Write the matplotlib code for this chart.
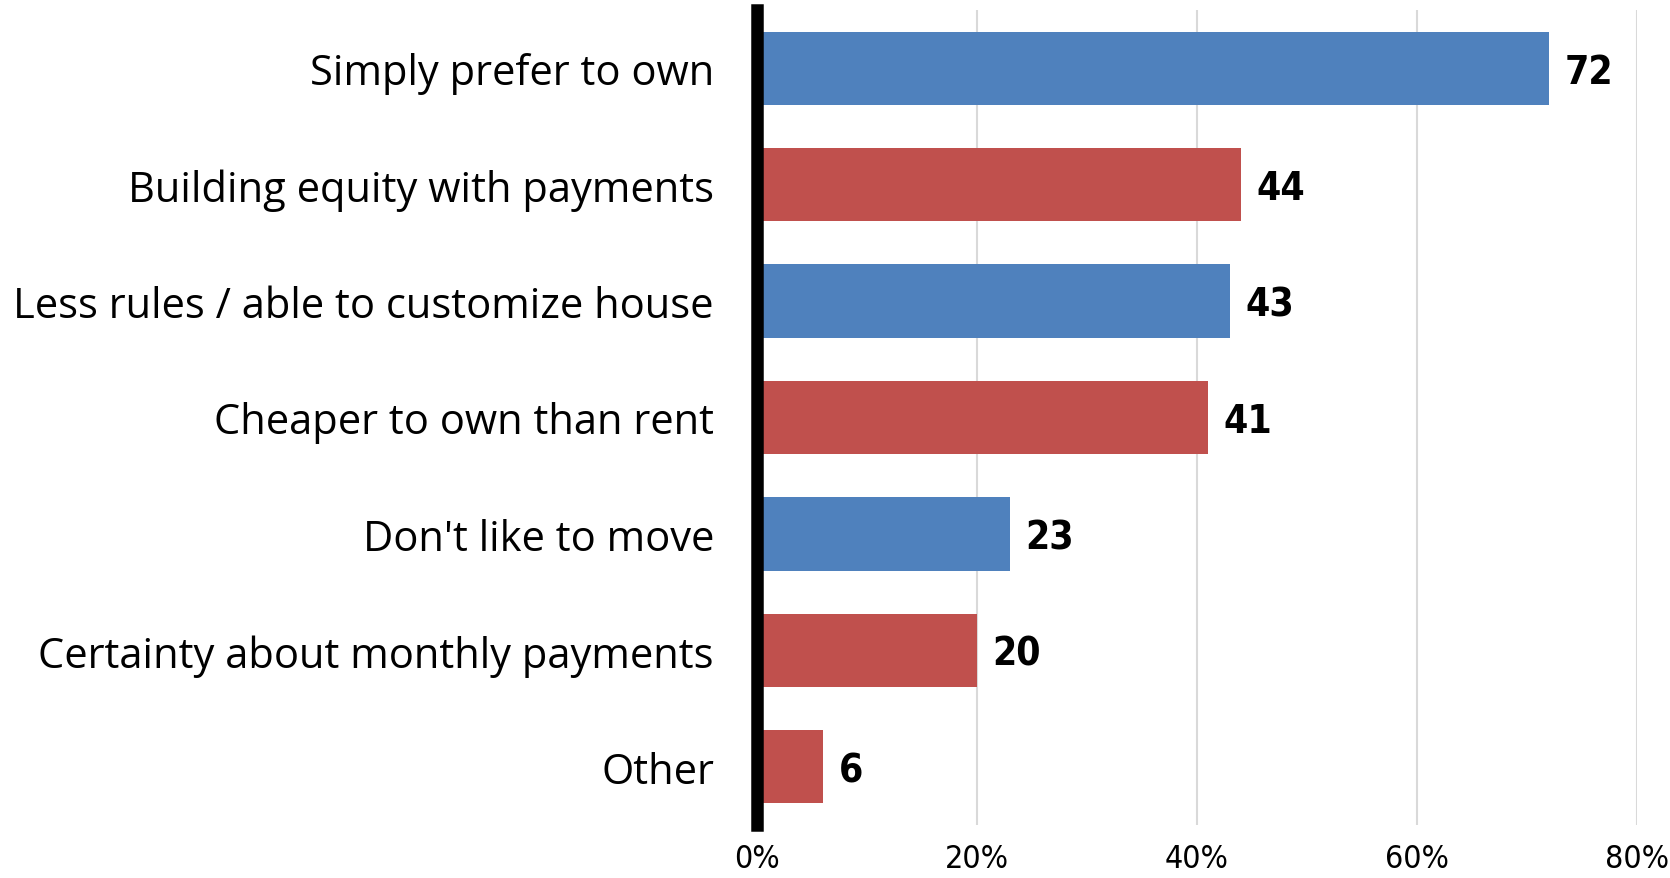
import matplotlib
matplotlib.use('Agg')
import matplotlib.pyplot as plt
from matplotlib.ticker import FuncFormatter

# Reasons for preferring to own (percent)
categories = ['Simply prefer to own', 'Building equity with payments',
              'Less rules / able to customize house', 'Cheaper to own than rent',
              "Don't like to move", 'Certainty about monthly payments', 'Other']
values = [72, 44, 43, 41, 23, 20, 6]
bar_colors = ['#4F81BD', '#C0504D', '#4F81BD', '#C0504D', '#4F81BD', '#C0504D', '#C0504D']
x_ticks = [0, 20, 40, 60, 80]

label_font = ['Open Sans', 'DejaVu Sans']

fig = plt.figure(figsize=(16.7, 8.79), dpi=100)
ax = fig.add_axes([757 / 1670, 1 - 826 / 879, (1637 - 757) / 1670, (826 - 11) / 879])

y = list(range(len(categories)))
ax.barh(y, values, height=0.63, color=bar_colors, zorder=3)

ax.set_xlim(0, 80)
ax.set_ylim(len(categories) - 0.5, -0.5)
ax.set_xticks(x_ticks)
ax.xaxis.set_major_formatter(FuncFormatter(lambda v, p: f'{v:.0f}%'))
ax.set_yticks(y)
ax.set_yticklabels(categories, fontsize=30, family=label_font)
ax.tick_params(axis='y', length=0, pad=31)
ax.tick_params(axis='x', length=0, pad=13)
for lab in ax.get_xticklabels():
    lab.set_family('DejaVu Sans')
    lab.set_stretch('condensed')
    lab.set_fontsize(23)

ax.grid(axis='x', color='#d9d9d9', linewidth=1.5, zorder=0)
for side in ['top', 'right', 'bottom']:
    ax.spines[side].set_visible(False)
ax.spines['left'].set_linewidth(9)
ax.spines['left'].set_color('black')
ax.spines['left'].set_zorder(4)

for yi, v in zip(y, values):
    ax.text(v + 1.4, yi + 0.03, str(v), va='center', ha='left', fontsize=28,
            fontweight='bold', family='DejaVu Sans', fontstretch='condensed')

fig.savefig('out.png', dpi=100)
